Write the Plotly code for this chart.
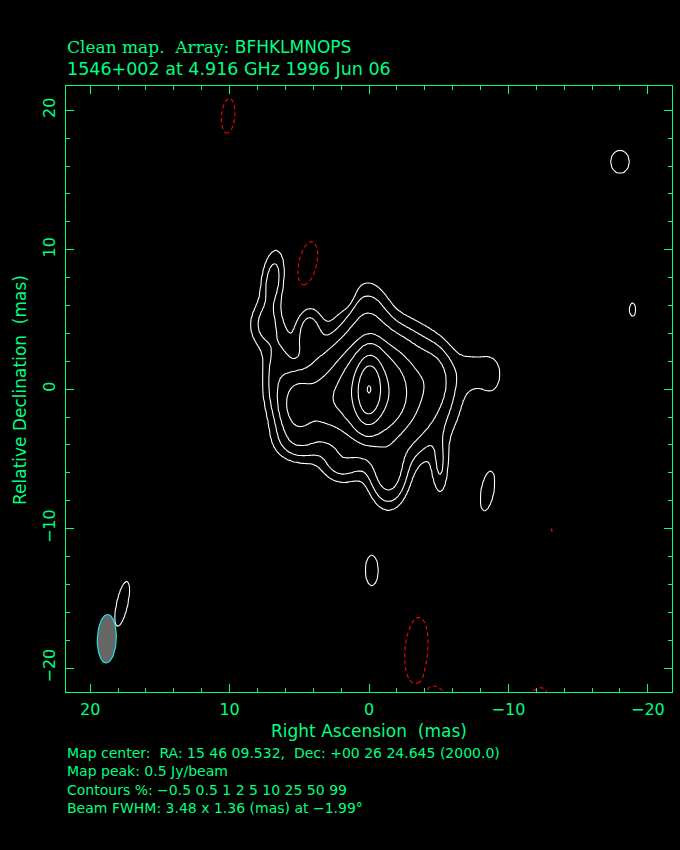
import numpy as np
import plotly.graph_objects as go

# ---------------- data: source model (Gaussian components, already beam-convolved) -------------
# name:        core  inner  outer  E1    E2    P     SE1   SE2   N     B     NE1   NE2   W1    W2    W3    SW    S
#              I1    I2     I3     I4    I5
#              neg1  neg2   neg3   neg4  neg5  neg6  neg7
comp_ra   = [0.0, -0.2, -0.5, 3.3, 5.1, 6.5, 5.0, 2.0, 0.1, 4.3, 6.9, 7.5, -4.6, -7.8, -8.8, -5.1, -1.4,
             -8.5, -0.2, 17.7, -18.0, -18.9,
             10.1, 4.4, 1.6, -3.4, -13.1, -5.0, -12.0]
comp_dec  = [0.0, -0.2, -0.3, -0.9, -1.1, 0.8, -3.6, -5.3, 4.6, 4.0, 7.8, 4.6, 0.8, 1.3, 0.9, -5.5, -5.8,
             -7.3, -13.0, -15.4, 16.3, 5.7,
             19.6, 9.0, 7.2, -18.7, -10.1, -22.4, -22.4]
comp_amp  = [70.0, 22.0, 10.0, 4.5, 7.5, 1.4, 1.5, 1.0, 1.6, 1.4, 1.4, 1.1, 1.5, 0.6, 0.45, 1.0, 3.0,
             0.75, 0.75, 0.8, 0.9, 0.6,
             -0.8, -0.9, -0.7, -1.0, -0.55, -0.9, -0.9]
comp_sra  = [0.55, 1.3, 2.5, 1.0, 0.7, 0.75, 1.1, 0.9, 1.0, 0.6, 0.55, 0.75, 0.8, 1.2, 0.5, 0.4, 0.8,
             0.5, 0.5, 0.4, 0.6, 0.35,
             0.5, 0.6, 0.4, 0.7, 0.15, 0.6, 0.6]
comp_sdec = [1.35, 1.6, 2.4, 1.3, 1.2, 2.2, 1.0, 0.9, 1.9, 1.2, 1.5, 1.1, 1.3, 1.1, 1.0, 1.5, 1.5,
             1.6, 1.2, 1.7, 0.75, 0.8,
             1.3, 1.5, 0.9, 2.0, 0.3, 1.0, 1.0]
comp_rot  = [2, 0, 0, 0, 0, 0, 0, 0, 0, 0, 7, 0, 0, 0, 0, 0, 0,
             10, 0, 12, 0, 0,
             5, 12, 0, 5, 0, -20, 30]

contour_pct = [-0.5, 0.5, 1, 2, 5, 10, 25, 50, 99]
beam_major, beam_minor, beam_pa = 3.48, 1.36, -1.99
beam_ra, beam_dec = 18.8, -17.9

title_1 = '<span style="font-family:DejaVu Serif">Clean map.  Array:</span> BFHKLMNOPS'
title_2 = "1546+002 at 4.916 GHz 1996 Jun 06"
footer = ["Map center:  RA: 15 46 09.532,  Dec: +00 26 24.645 (2000.0)",
          "Map peak: 0.5 Jy/beam",
          "Contours %: \u22120.5 0.5 1 2 5 10 25 50 99",
          "Beam FWHM: 3.48 x 1.36 (mas) at \u22121.99\u00b0"]

GREEN = "#00ff80"

# ---------------- build map ----------------
ra = np.arange(-23.0, 23.001, 0.125)
dec = np.arange(-23.0, 23.001, 0.125)
RA, DEC = np.meshgrid(ra, dec)
field = np.zeros_like(RA)
for x0, y0, a, sx, sy, t in zip(comp_ra, comp_dec, comp_amp, comp_sra, comp_sdec, comp_rot):
    th = np.radians(t)
    dx, dy = RA - x0, DEC - y0
    u = dx * np.cos(th) + dy * np.sin(th)
    v = -dx * np.sin(th) + dy * np.cos(th)
    field += a * np.exp(-0.5 * ((u / sx) ** 2 + (v / sy) ** 2))
pct = 100.0 * field / field.max()

pos_levels = [l for l in contour_pct if l > 0]
neg_levels = [l for l in contour_pct if l < 0]
xp = [pct.min() - 1] + pos_levels + [pct.max() + 1]
fp = [-1] + list(range(1, len(pos_levels) + 1)) + [len(pos_levels) + 1]
zpos = np.interp(pct, xp, fp)

fig = go.Figure()
fig.add_trace(go.Contour(
    x=ra, y=dec, z=np.round(zpos, 3),
    contours=dict(start=1, end=len(pos_levels), size=1, coloring="none"),
    line=dict(color="white", width=1.1, smoothing=0.8),
    showscale=False, hoverinfo="skip"))
fig.add_trace(go.Contour(
    x=ra, y=dec, z=np.round(pct, 3),
    contours=dict(start=neg_levels[0], end=neg_levels[0], size=1, coloring="none"),
    line=dict(color="#ff0000", width=1.1, dash="4px,3px", smoothing=0.8),
    showscale=False, hoverinfo="skip"))

# beam ellipse
tt = np.linspace(0, 2 * np.pi, 120)
pa = np.radians(beam_pa)
a_, b_ = beam_major / 2, beam_minor / 2
bx = b_ * np.cos(tt)
by = a_ * np.sin(tt)
ex = beam_ra + bx * np.cos(pa) + by * np.sin(pa)
ey = beam_dec - bx * np.sin(pa) + by * np.cos(pa)
fig.add_trace(go.Scatter(x=ex, y=ey, mode="lines", fill="toself",
                         fillcolor="#666666", line=dict(color="#22e0e8", width=1.2),
                         hoverinfo="skip", showlegend=False))

L, R, T, B = 66, 672, 86, 692
W = R - L
H = B - T

def px(xp_):
    return (xp_ - L) / W

def py(yp_):
    return (B - yp_) / H

axis_common = dict(showgrid=False, zeroline=False, showline=True, linecolor=GREEN, linewidth=1,
                   mirror="allticks", ticks="inside", ticklen=8, tickwidth=1, tickcolor=GREEN,
                   tick0=0, dtick=10,
                   tickfont=dict(family="DejaVu Sans", size=16, color=GREEN),
                   minor=dict(dtick=2, tick0=0, ticks="inside", ticklen=4, tickwidth=1, tickcolor=GREEN))

fig.update_layout(
    width=680, height=850,
    margin=dict(l=L, r=680 - R, t=T, b=850 - B),
    paper_bgcolor="black", plot_bgcolor="black",
    showlegend=False,
    xaxis=dict(range=[21.73, -21.73], ticklabelstandoff=3, **axis_common),
    yaxis=dict(range=[-21.72, 21.74], tickangle=-90, ticklabelstandoff=4, **axis_common),
    font=dict(family="DejaVu Sans", color=GREEN),
)

ann = []
ann.append(dict(text=title_1, x=px(65), y=py(47), xanchor="left", yanchor="middle",
                font=dict(size=17, color=GREEN)))
ann.append(dict(text=title_2, x=px(65), y=py(69), xanchor="left", yanchor="middle",
                font=dict(size=17.5, color=GREEN)))
ann.append(dict(text="Right Ascension  (mas)", x=px(369), y=py(731), xanchor="center", yanchor="middle",
                font=dict(size=17, color=GREEN)))
ann.append(dict(text="Relative Declination  (mas)", x=px(20), y=py(390), xanchor="center", yanchor="middle",
                textangle=-90, font=dict(size=17, color=GREEN)))
for i, line in enumerate(footer):
    ann.append(dict(text=line, x=px(65), y=py(753 + 18.3 * i), xanchor="left", yanchor="middle",
                    font=dict(size=14, color=GREEN)))
for a in ann:
    a.update(xref="paper", yref="paper", showarrow=False)
fig.update_layout(annotations=ann)

fig.write_html("out.html", config={"displayModeBar": False},
               post_script="document.body.style.margin='0';document.body.style.background='black';")
